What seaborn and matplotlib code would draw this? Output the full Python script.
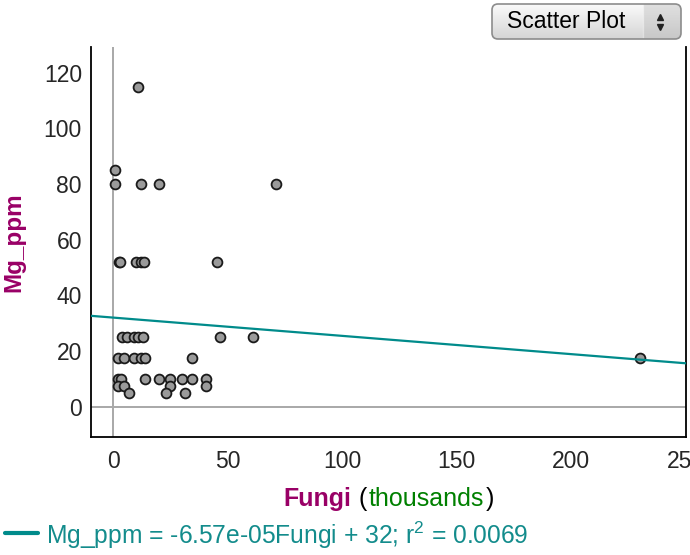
import numpy as np
import pandas as pd
import matplotlib
matplotlib.use("Agg")
import matplotlib.pyplot as plt
import seaborn as sns
from matplotlib.patches import FancyBboxPatch, Rectangle
from matplotlib.lines import Line2D
from matplotlib.offsetbox import TextArea, HPacker, AnchoredOffsetbox
from matplotlib.ticker import MultipleLocator, FixedLocator

# Datos (Fungi en miles, Mg en ppm)
fungi = [11,
         1,
         1, 12, 20, 71,
         2.5, 3, 10, 12, 13.5, 45.5,
         4, 6, 9, 11, 13, 46.5, 61,
         2, 5, 9, 12, 14, 34.5, 230,
         2, 3.5, 14, 20, 25, 30, 34.5, 40.5,
         2, 5, 25, 40.5,
         7, 23, 31.5]
mg_ppm = [115,
          85,
          80, 80, 80, 80,
          52, 52, 52, 52, 52, 52,
          25, 25, 25, 25, 25, 25, 25,
          17.5, 17.5, 17.5, 17.5, 17.5, 17.5, 17.5,
          10, 10, 10, 10, 10, 10, 10, 10,
          7.5, 7.5, 7.5, 7.5,
          5, 5, 5]

# Recta de regresion mostrada en la leyenda
slope = -6.57e-05   # por unidad de Fungi
intercept = 32
r2 = 0.0069

df = pd.DataFrame({"Fungi": fungi, "Mg_ppm": mg_ppm})

sns.set_style("white")
plt.rcParams["font.family"] = ["Liberation Sans", "DejaVu Sans"]
plt.rcParams["mathtext.fontset"] = "custom"
plt.rcParams["mathtext.rm"] = "Liberation Sans"
plt.rcParams["mathtext.it"] = "Liberation Sans"

teal = "#008b8b"
W, H = 690, 555

fig = plt.figure(figsize=(6.9, 5.55), dpi=100)
ax = fig.add_axes([91 / W, 1 - 437 / H, 595 / W, 390 / H])

# Lineas de referencia en cero
ax.axhline(0, color="#a8a8a8", lw=1.4, zorder=1)
ax.axvline(0, color="#a8a8a8", lw=1.4, zorder=1)

sns.scatterplot(data=df, x="Fungi", y="Mg_ppm", ax=ax, s=50,
                color="#9a9a9a", edgecolor="#1a1a1a", linewidth=1.3, zorder=3)

# Recta de ajuste (pendiente convertida a miles)
ax.axline((0, intercept), slope=slope * 1000, color=teal, lw=1.6, zorder=4)

ax.set_xlim(-9.6, 250)
ax.set_ylim(-10.9, 129.2)

ax.xaxis.set_major_locator(MultipleLocator(50))
ax.xaxis.set_minor_locator(FixedLocator(np.arange(25, 250, 50)))
ax.yaxis.set_major_locator(MultipleLocator(20))
ax.yaxis.set_minor_locator(FixedLocator(np.arange(10, 130, 20)))
ax.tick_params(which="major", direction="out", length=5, width=1.2,
               color="black", labelsize=16.5, pad=1.5)
ax.tick_params(which="minor", direction="out", length=5, width=1.2,
               color="#909090")
ax.tick_params(axis="x", which="both", length=6, pad=3)

for side in ["left", "bottom", "right"]:
    ax.spines[side].set_visible(True)
    ax.spines[side].set_color("black")
    ax.spines[side].set_linewidth(1.3)
ax.spines["top"].set_visible(False)

ax.set_xlabel("")
ax.set_ylabel("Mg_ppm", color="#990066", fontweight="bold", fontsize=17.5)
ax.yaxis.set_label_coords((25 - 91) / 595, 0.5)

# Etiqueta del eje x en varios colores
fs = 18
parts = [TextArea("Fungi", textprops=dict(color="#990066", fontweight="bold", fontsize=fs)),
         TextArea(" (", textprops=dict(color="black", fontsize=fs)),
         TextArea("thousands", textprops=dict(color="#008000", fontsize=fs)),
         TextArea(")", textprops=dict(color="black", fontsize=fs))]
box = HPacker(children=parts, align="baseline", pad=0, sep=1)
fig.add_artist(AnchoredOffsetbox(loc="center", child=box, pad=0, borderpad=0, frameon=False,
                                 bbox_to_anchor=(388.5 / W, 1 - 499 / H),
                                 bbox_transform=fig.transFigure))

# Leyenda de la recta
fig.add_artist(Line2D([5 / W, 38 / W], [1 - 533 / H] * 2, color=teal, lw=3,
                      solid_capstyle="round"))
fig.text(46 / W, 1 - 544 / H,
         f"Mg_ppm = {slope:.2e}Fungi + {intercept}; r$^2$ = {r2}",
         color="#138c8c", fontsize=17.7, va="baseline")

# Boton "Scatter Plot"
bax = fig.add_axes([491 / W, 1 - 40 / H, 191 / W, 37 / H])
bax.set_xlim(0, 191)
bax.set_ylim(0, 37)
bax.axis("off")
frame = FancyBboxPatch((1, 1), 189, 35, boxstyle="round,pad=0,rounding_size=6",
                       facecolor="none", edgecolor="#8c8c8c", lw=1.2, zorder=5)
bax.add_patch(frame)
grad = np.linspace(0, 1, 50).reshape(-1, 1)
img = bax.imshow(grad, extent=[0, 191, 0, 37], aspect="auto", origin="lower",
                 cmap=sns.blend_palette(["#d4d4d4", "#fbfbfb"], as_cmap=True), zorder=1)
img.set_clip_path(frame)
seg = Rectangle((152, 0), 39, 37, facecolor="#b0b0b0", alpha=0.35, zorder=2)
bax.add_patch(seg)
seg.set_clip_path(frame)
bax.text(75, 18.5, "Scatter Plot", ha="center", va="center", fontsize=16.5, color="black", zorder=6)
bax.plot(169, 23, marker="^", ms=5, color="#222222", zorder=6)
bax.plot(169, 13, marker="v", ms=5, color="#222222", zorder=6)

fig.savefig("out.png", dpi=100)
